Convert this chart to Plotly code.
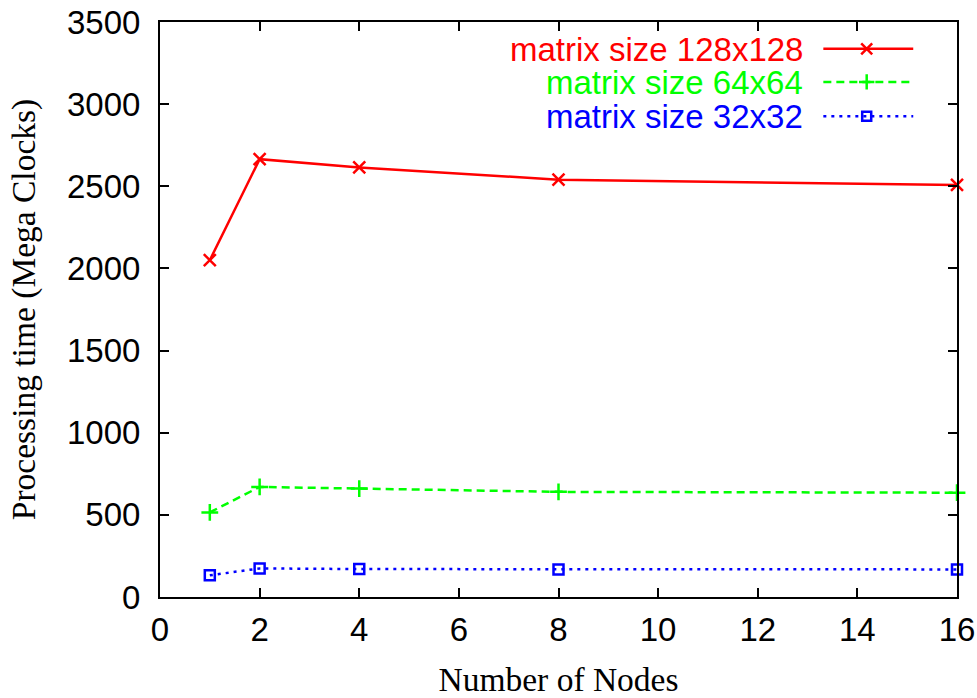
import plotly.graph_objects as go

nodes = [1, 2, 4, 8, 16]
size128 = [2050, 2665, 2615, 2540, 2508]
size64 = [515, 670, 660, 640, 635]
size32 = [132, 174, 170, 168, 168]
labels = ["matrix size 128x128", "matrix size 64x64", "matrix size 32x32"]
colors = ["#ff0000", "#00ff00", "#0000ff"]
dashes = ["solid", "8px,5px", "3px,5px"]
symbols = ["x-thin-open", "cross-thin-open", "square-open"]
msizes = [12, 12, 10]
series = [size128, size64, size32]

xticks = [0, 2, 4, 6, 8, 10, 12, 14, 16]
yticks = [0, 500, 1000, 1500, 2000, 2500, 3000, 3500]

fig = go.Figure()
for ys, c, d, s, ms in zip(series, colors, dashes, symbols, msizes):
    fig.add_trace(go.Scatter(
        x=nodes, y=ys, mode="lines+markers",
        line=dict(color=c, width=2.5, dash=d),
        marker=dict(symbol=s, size=ms, color=c, line=dict(color=c, width=2.5)),
        cliponaxis=False, showlegend=False,
    ))

# legend keys on an overlay axis in [0,1] coordinates (gnuplot-style key)
key_y = [0.9533, 0.8958, 0.8359]
for ky, c, d, s, ms, lab in zip(key_y, colors, dashes, symbols, msizes, labels):
    fig.add_trace(go.Scatter(
        x=[0.8323, 0.9451], y=[ky, ky], mode="lines",
        line=dict(color=c, width=2.5, dash=d),
        xaxis="x2", yaxis="y2", showlegend=False, hoverinfo="skip",
    ))
    fig.add_trace(go.Scatter(
        x=[0.8867], y=[ky], mode="markers",
        marker=dict(symbol=s, size=ms - 1, color=c, line=dict(color=c, width=2.5)),
        xaxis="x2", yaxis="y2", showlegend=False, hoverinfo="skip",
    ))
    fig.add_annotation(
        x=0.8075, y=ky, xref="x2", yref="y2", text=lab, showarrow=False,
        xanchor="right", yanchor="middle", height=32, borderpad=0,
        font=dict(family="Liberation Sans", size=33, color=c),
    )

axis_common = dict(
    showline=True, linecolor="black", linewidth=2, mirror="ticks",
    ticks="inside", ticklen=9, tickwidth=1.5, tickcolor="black",
    showgrid=False, zeroline=False, automargin=False,
    tickfont=dict(family="Liberation Sans", size=33, color="black"),
)

fig.update_layout(
    width=977, height=698,
    margin=dict(l=160, r=20, t=22, b=101, autoexpand=False),
    paper_bgcolor="white", plot_bgcolor="white",
    xaxis=dict(range=[0, 16], tickvals=xticks, ticklabelstandoff=2,
               title=dict(text="Number of Nodes", standoff=28,
                          font=dict(family="Liberation Serif", size=33.5, color="black")),
               **axis_common),
    yaxis=dict(range=[0, 3500], tickvals=yticks, ticklabelstandoff=11,
               title=dict(text="Processing time (Mega Clocks)", standoff=21,
                          font=dict(family="Liberation Serif", size=33.5, color="black")),
               **axis_common),
    xaxis2=dict(range=[0, 1], overlaying="x", visible=False, fixedrange=True),
    yaxis2=dict(range=[0, 1], overlaying="y", visible=False, fixedrange=True),
    showlegend=False,
)

fig.write_html("out.html")
